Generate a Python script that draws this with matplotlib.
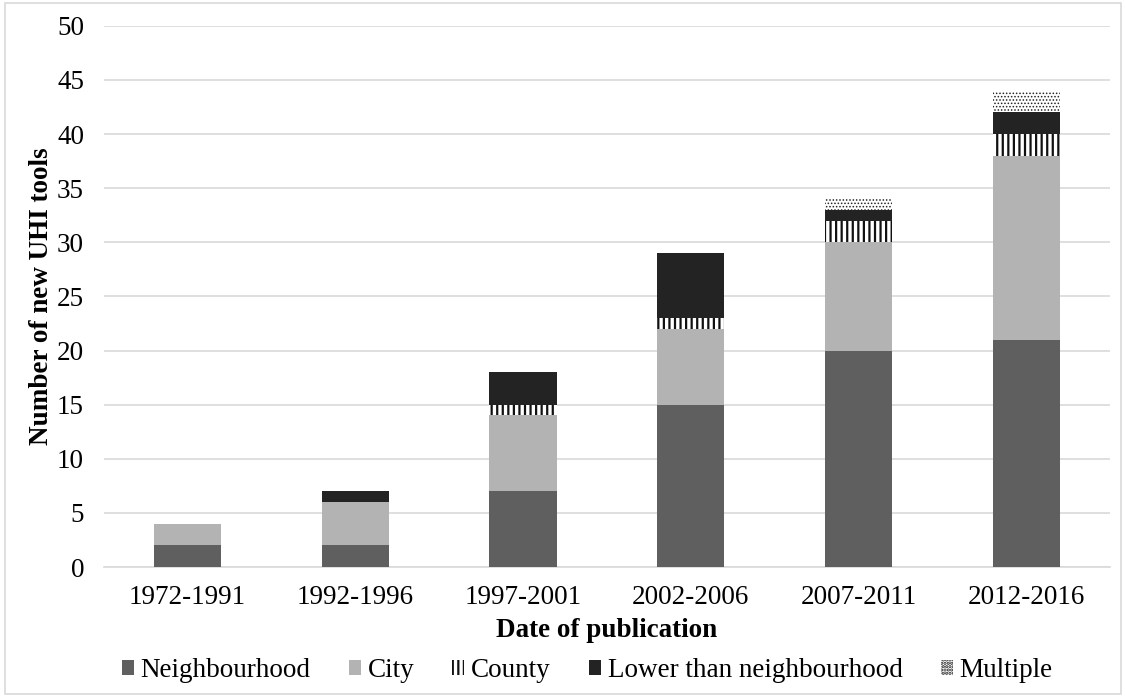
import numpy as np
import matplotlib.pyplot as plt

plt.rcParams['font.family'] = ['Liberation Serif', 'DejaVu Serif']
plt.rcParams['hatch.linewidth'] = 1.6

periods = ['1972-1991', '1992-1996', '1997-2001', '2002-2006', '2007-2011', '2012-2016']
neighbourhood = [2, 2, 7, 15, 20, 21]
city = [2, 4, 7, 7, 10, 17]
county = [0, 0, 1, 1, 2, 2]
lower = [0, 1, 3, 6, 1, 2]
multiple = [0, 0, 0, 0, 1, 2]

series = [
    ('Neighbourhood', neighbourhood, dict(color='#5f5f5f'), 1.6),
    ('City', city, dict(color='#b3b3b3'), 1.6),
    ('County', county, dict(facecolor='white', edgecolor='#111111', hatch='|||', linewidth=0), 1.6),
    ('Lower than neighbourhood', lower, dict(color='#232323'), 1.6),
    ('Multiple', multiple, dict(facecolor='white', edgecolor='#222222', hatch='.....', linewidth=0), 0.7),
]

fs = 19.5

fig = plt.figure(figsize=(11.25, 6.97), dpi=100)
ax = fig.add_axes([0.092, 0.1865, 0.895, 0.7765])

x = np.arange(len(periods))
bottom = np.zeros(len(periods))
for name, vals, style, hlw in series:
    vals = np.array(vals, dtype=float)
    with plt.rc_context({'hatch.linewidth': hlw}):
        ax.bar(x, vals, 0.4, bottom=bottom, label=name, zorder=3, **style)
    bottom += vals

ax.set_ylim(0, 50)
ax.set_xlim(-0.5, len(periods) - 0.5)
ax.set_yticks(range(0, 51, 5))
ax.set_xticks(x)
ax.set_xticklabels(periods)
ax.tick_params(axis='both', length=0, labelsize=fs)
ax.tick_params(axis='y', pad=14)
ax.tick_params(axis='x', pad=13)
ax.grid(axis='y', color='#d9d9d9', linewidth=1.2, zorder=0)
for s in ['top', 'right', 'left']:
    ax.spines[s].set_visible(False)
ax.spines['bottom'].set_color('#d9d9d9')
ax.spines['bottom'].set_linewidth(1.2)

ax.set_ylabel('Number of new UHI tools', fontsize=fs, fontweight='bold', labelpad=2)
ax.set_xlabel('Date of publication', fontsize=fs, fontweight='bold', labelpad=6)

fig.legend(loc='center', bbox_to_anchor=(0.522, 0.038), ncol=5, frameon=False,
           fontsize=fs, handlelength=0.45, handleheight=0.45, handletextpad=0.25,
           columnspacing=1.4)

# light frame around the whole chart
fig.patches.append(plt.Rectangle((0.004, 0.004), 0.992, 0.992, transform=fig.transFigure,
                                 fill=False, edgecolor='#d9d9d9', linewidth=1.2))

fig.savefig('out.png', dpi=100)
